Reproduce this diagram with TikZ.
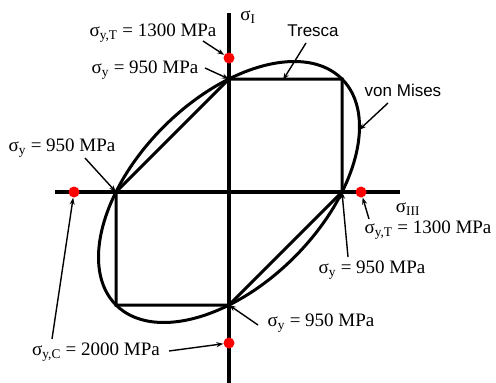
\documentclass[tikz,border=0pt]{standalone}
\usepackage{fontspec}
\setmainfont{Liberation Serif}
\newfontfamily\sansf{Liberation Sans}
\usetikzlibrary{arrows.meta}
\tikzset{
  axis/.style={line width=3.6pt},
  curve/.style={line width=3pt},
  pointer/.style={line width=1.4pt,-{Stealth[length=7pt,width=5pt]}},
  reddot/.style={circle,fill=red,inner sep=0pt,minimum size=11pt},
  lab/.style={font=\fontsize{19}{21}\selectfont,inner sep=1pt},
  slab/.style={font=\sansf\fontsize{17}{19}\selectfont,inner sep=1pt},
}
\begin{document}
\begin{tikzpicture}[x=1pt,y=-1pt]
\useasboundingbox (0,0) rectangle (496,383);
% key points
\coordinate (O) at (229,192);
\coordinate (T) at (229,79);
\coordinate (TR) at (342,79);
\coordinate (R) at (342,192);
\coordinate (B) at (229,305);
\coordinate (BL) at (116,305);
\coordinate (L) at (116,192);
\coordinate (vtop) at (229,13);
\coordinate (vbot) at (229,383);
\coordinate (hl) at (55,192);
\coordinate (hr) at (400,192);
% axes
\draw[axis] (vtop) -- (vbot);
\draw[axis] (hl) -- (hr);
% Tresca
\draw[curve,line join=miter] (T) -- (TR) -- (R) -- (B) -- (BL) -- (L) -- cycle;
% von Mises
\draw[curve,rotate around={45:(O)}] (O) ellipse [x radius=159.8pt, y radius=92.3pt];
% red dots
\node[reddot] (dT) at (229,58) {};
\node[reddot] (dR) at (361,192) {};
\node[reddot] (dL) at (74,192) {};
\node[reddot] (dB) at (229,343) {};
% labels
\node[lab] (sI) at (248,17) {σ\textsubscript{I}};
\node[lab] (sIII) at (408,209) {σ\textsubscript{III}};
\node[lab] (yT1) at (153,33) {σ\textsubscript{y,T} = 1300 MPa};
\node[lab] (y1) at (145,70) {σ\textsubscript{y} = 950 MPa};
\node[slab] (tr) at (313,31) {Tresca};
\node[slab] (vm) at (403,90) {von Mises};
\node[lab] (y2) at (62,148) {σ\textsubscript{y} = 950 MPa};
\node[lab] (yT2) at (428,230) {σ\textsubscript{y,T} = 1300 MPa};
\node[lab] (y3) at (372,270) {σ\textsubscript{y} = 950 MPa};
\node[lab] (y4) at (321,323) {σ\textsubscript{y} = 950 MPa};
\node[lab] (yC) at (96,352) {σ\textsubscript{y,C} = 2000 MPa};
% pointers
\coordinate (trtip) at (283,80);
\coordinate (vmtip) at (359,130);
\draw[pointer] (203,41) -- (dT);
\draw[pointer] (205,68) -- (T);
\draw[pointer] (306,43) -- (trtip);
\draw[pointer] (388,103) -- (vmtip);
\draw[pointer] (85,158) -- (L);
\draw[pointer] (369,219) -- (dR);
\draw[pointer] (348,257) -- (R);
\draw[pointer] (258,325) -- (B);
\draw[pointer] (169,351) -- (dB);
\draw[pointer] (52,339) -- (dL);
\end{tikzpicture}
\end{document}
